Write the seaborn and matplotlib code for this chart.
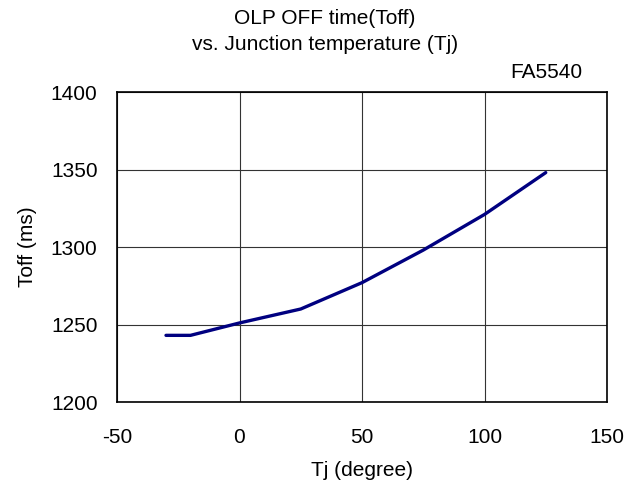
import matplotlib
matplotlib.use("Agg")
import matplotlib.pyplot as plt
import seaborn as sns
import pandas as pd

# Data
tj = [-30, -20, 0, 25, 50, 75, 100, 125]
toff = [1243, 1243, 1251, 1260, 1277, 1298, 1321, 1348]
x_ticks = [-50, 0, 50, 100, 150]
y_ticks = [1200, 1250, 1300, 1350, 1400]

sns.set_style("white")
plt.rcParams['font.family'] = ['Liberation Sans', 'DejaVu Sans']
plt.rcParams['axes.unicode_minus'] = False
plt.rcParams['text.color'] = 'black'
plt.rcParams['axes.labelcolor'] = 'black'

df = pd.DataFrame({"Tj": tj, "Toff": toff})

fig = plt.figure(figsize=(6.43, 4.86), dpi=100)
ax = fig.add_axes([117/643, 1 - 402/486, 490/643, 310/486])

sns.lineplot(data=df, x="Tj", y="Toff", ax=ax, color="#000080", linewidth=2.4)

ax.set_xlim(-50, 150)
ax.set_ylim(1200, 1400)
ax.set_xticks(x_ticks)
ax.set_yticks(y_ticks)
ax.grid(True, color="#333333", linewidth=0.8)
ax.set_axisbelow(True)
for s in ax.spines.values():
    s.set_color("black")
    s.set_linewidth(1.2)
ax.tick_params(axis="both", length=0, labelsize=15, colors="black")
ax.tick_params(axis="x", pad=19)
ax.tick_params(axis="y", pad=14)

ax.set_xlabel("Tj (degree)", fontsize=15, labelpad=10)
ax.set_ylabel("Toff (ms)", fontsize=15, labelpad=10)

fig.text(325/643, 1 - 18/486, "OLP OFF time(Toff)", ha="center", va="center", fontsize=15)
fig.text(325/643, 1 - 45/486, "vs. Junction temperature (Tj)", ha="center", va="center", fontsize=15)
fig.text(582/643, 1 - 72/486, "FA5540", ha="right", va="center", fontsize=15)

fig.savefig("out.png", dpi=100, facecolor="white")
